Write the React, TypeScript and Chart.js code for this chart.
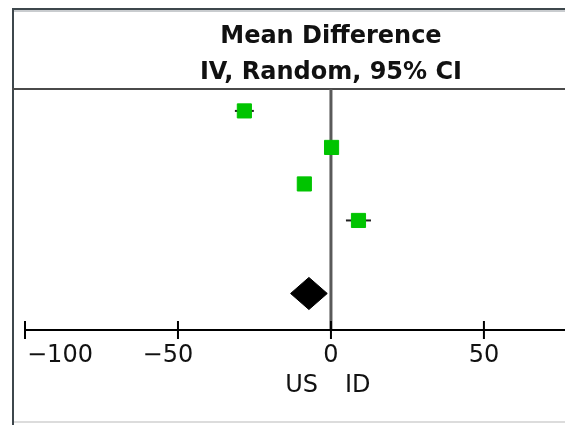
import { useEffect, useRef } from 'react';
import { Chart, registerables } from 'chart.js';

Chart.register(...registerables);

// ---- data ----
const studyRows = [0, 1, 2, 3];
const meanDiff = [-28.3, 0.2, -8.7, 9.0];
const ciLower = [-31.4, -1.6, -10.6, 4.9];
const ciUpper = [-25.2, 2.0, -6.8, 13.1];
const pooledRow = [5];
const pooledMean = [-7.2];
const pooledLower = [-13.2];
const pooledUpper = [-1.2];
const xTicks = [-100, -50, 0, 50];
const titleLines = ['Mean Difference', 'IV, Random, 95% CI'];
const favoursLeft = 'US';
const favoursRight = 'ID';

// ---- styles ----
const FONT = '"DejaVu Sans", "Liberation Sans", sans-serif';
const GREEN = '#00c400';
const DIAMOND_HALF = 0.44;

const forestPlugin = {
  id: 'forestDecor',
  beforeDraw(chart: any) {
    const { ctx, chartArea, width, height } = chart;
    const x = chart.scales.x;
    const x0 = x.getPixelForValue(0);
    ctx.save();
    // frame of the table cell
    ctx.fillStyle = '#3e474c';
    ctx.fillRect(12, 8, 2, height - 8);
    ctx.fillRect(12, 8, width - 12, 2);
    ctx.fillStyle = '#c9cccf';
    ctx.fillRect(14, 10, width - 14, 2);
    ctx.fillStyle = '#dcdcdc';
    ctx.fillRect(14, 421, width - 14, 2);
    // header rule
    ctx.fillStyle = '#4a4a4a';
    ctx.fillRect(12, chartArea.top - 1, width - 12, 2);
    // titles
    ctx.fillStyle = '#111';
    ctx.font = `bold 24px ${FONT}`;
    ctx.textAlign = 'center';
    ctx.textBaseline = 'alphabetic';
    ctx.fillText(titleLines[0], x0, 43);
    ctx.fillText(titleLines[1], x0, 79);
    ctx.restore();
  },
  beforeDatasetsDraw(chart: any) {
    const { ctx, chartArea } = chart;
    const x = chart.scales.x;
    const x0 = x.getPixelForValue(0);
    ctx.save();
    ctx.fillStyle = '#5a5a5a';
    ctx.fillRect(x0 - 1.5, chartArea.top, 3, chartArea.bottom - chartArea.top);
    ctx.restore();
  },
  afterDraw(chart: any) {
    const { ctx, chartArea } = chart;
    const x = chart.scales.x;
    const y = chartArea.bottom;
    const x0 = x.getPixelForValue(0);
    ctx.save();
    ctx.fillStyle = '#000';
    const left = x.getPixelForValue(xTicks[0]);
    ctx.fillRect(left, y - 1, chartArea.right - left, 2);
    ctx.font = `24px ${FONT}`;
    ctx.textBaseline = 'alphabetic';
    ctx.textAlign = 'left';
    xTicks.forEach((t) => {
      const px = x.getPixelForValue(t);
      ctx.fillStyle = '#000';
      ctx.fillRect(px - 1, y - 9, 2, 18);
      const digits = String(Math.abs(t));
      const minus = t < 0 ? '\u2212' : '';
      const dw = ctx.measureText(digits).width;
      const mw = minus ? ctx.measureText(minus).width : 0;
      let start = px - dw / 2 - mw;
      if (start < 27) start = 27;
      ctx.fillStyle = '#111';
      ctx.fillText(minus + digits, start, 362);
    });
    ctx.textAlign = 'right';
    ctx.fillText(favoursLeft, x0 - 13, 392);
    ctx.textAlign = 'left';
    ctx.fillText(favoursRight, x0 + 14, 392);
    ctx.restore();
  },
};

export default function App() {
  const ref = useRef<HTMLCanvasElement | null>(null);
  useEffect(() => {
    if (!ref.current) return;
    const squares = {
      type: 'scatter' as const,
      data: meanDiff.map((m, i) => ({ x: m, y: studyRows[i] })),
      pointStyle: 'rect',
      pointRadius: 10,
      backgroundColor: GREEN,
      borderColor: GREEN,
      borderWidth: 1,
      order: 0,
    };
    const whiskers = meanDiff.map((_, i) => ({
      type: 'line' as const,
      data: [
        { x: ciLower[i], y: studyRows[i] },
        { x: ciUpper[i], y: studyRows[i] },
      ],
      borderColor: '#222',
      borderWidth: 2,
      pointRadius: 0,
      showLine: true,
      fill: false,
      order: 1,
    }));
    const diamond = {
      type: 'line' as const,
      data: [
        { x: pooledLower[0], y: pooledRow[0] },
        { x: pooledMean[0], y: pooledRow[0] - DIAMOND_HALF },
        { x: pooledUpper[0], y: pooledRow[0] },
        { x: pooledMean[0], y: pooledRow[0] + DIAMOND_HALF },
        { x: pooledLower[0], y: pooledRow[0] },
      ],
      borderColor: '#000',
      backgroundColor: '#000',
      borderWidth: 1,
      pointRadius: 0,
      showLine: true,
      fill: 'shape',
      tension: 0,
      order: 2,
    };
    const chart = new Chart(ref.current, {
      type: 'scatter',
      data: { datasets: [squares, ...whiskers, diamond] as any },
      options: {
        responsive: false,
        animation: false,
        layout: { autoPadding: false, padding: { left: 25, right: 0, top: 89, bottom: 95 } },
        plugins: { legend: { display: false }, tooltip: { enabled: false }, title: { display: false } },
        scales: {
          x: { type: 'linear', min: -100, max: 76.5, display: false },
          y: { type: 'linear', min: -0.6, max: 6, reverse: true, display: false },
        },
      },
      plugins: [forestPlugin],
    });
    return () => chart.destroy();
  }, []);
  return (
    <div style={{ position: 'absolute', left: 0, top: 0, width: 565, height: 425, background: '#fff' }}>
      <canvas ref={ref} width={565} height={425} />
    </div>
  );
}
